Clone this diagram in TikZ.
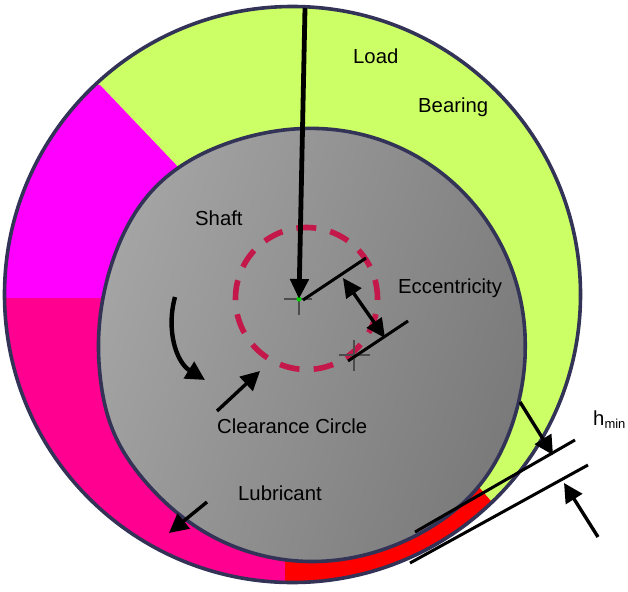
\documentclass[tikz,border=0pt]{standalone}
\usepackage{fontspec}
\setmainfont{Liberation Sans}
\usetikzlibrary{arrows.meta}
\definecolor{ringdark}{HTML}{333358}
\definecolor{lime}{HTML}{CCFF66}
\definecolor{magent}{HTML}{FF00FF}
\definecolor{pinkish}{HTML}{FF0090}
\definecolor{dashred}{HTML}{C4174A}
\definecolor{graylight}{HTML}{A4A4A4}
\definecolor{graydark}{HTML}{7A7A7A}
\tikzset{
  lbl/.style={font=\fontsize{20.3}{24}\selectfont,text=black,inner sep=0pt,anchor=base west},
  thinline/.style={draw=black,line width=3pt},
  pointer/.style={draw=black,line width=3.4pt,-{Triangle[length=19pt,width=19pt]}},
  both/.style={draw=black,line width=3.4pt,{Triangle[length=19pt,width=18pt]}-{Triangle[length=19pt,width=18pt]}},
  crossline/.style={draw=black!70,line width=1.6pt},
}
\begin{document}
\begin{tikzpicture}[x=1pt,y=-1pt]
\useasboundingbox (0,0) rectangle (628,591);
\begin{scope}
  \clip (292.5,294.5) circle (288);
  \fill[lime] (0,0) rectangle (628,591);
  \fill[magent] (100,85) -- (180,169) -- (180,298) -- (0,298) -- (0,85) -- cycle;
  \fill[pinkish] (0,298) rectangle (285,591);
  \fill[red] (285,591) -- (285,480) -- (478,486) -- (491,501) -- (560,591) -- cycle;
\end{scope}
\draw[ringdark,line width=3.6pt] (292.5,294.5) circle (288);
\path[left color=graylight,right color=graydark,shading angle=70,draw=ringdark,line width=3.6pt]
  plot[domain=0:357,samples=120,smooth]
  ({312+0.985*(216.5+7.5*exp(-((\x-135)/22)^2)+4*exp(-((\x-320)/20)^2)+3*exp(-((\x-204)/14)^2))*cos(\x)},
   {345-(216.5+7.5*exp(-((\x-135)/22)^2)+4*exp(-((\x-320)/20)^2)+3*exp(-((\x-204)/14)^2))*sin(\x)}) -- cycle;
\draw[dashred,line width=5.6pt,dash pattern=on 20pt off 14.3pt,dash phase=18.6pt] (306.5,298.5) circle (71);
\coordinate (c1) at (299,299);
\coordinate (c2) at (354,355);
\draw[crossline] (284,299) -- (312,299) (299,284) -- (299,315);
\draw[crossline] (339,355) -- (370,355) (354,340) -- (354,371);
\fill[green!85!black] (c1) circle (2.5);
\coordinate (loadtop) at (305,8);
\draw[draw=black,line width=4.8pt,-{Triangle[length=20pt,width=18pt]}] (loadtop) -- (c1);
\coordinate (e0) at (303,300);
\coordinate (e1) at (366,258);
\coordinate (e2) at (408,321);
\coordinate (e3) at (348,361);
\draw[thinline] (e0) -- (e1);
\draw[thinline] (e3) -- (e2);
\coordinate (d1) at (343,278);
\coordinate (d2) at (385,338);
\draw[both] (d1) -- (d2);
\coordinate (r1) at (175,297);
\coordinate (r2) at (205,380);
\draw[draw=black,line width=4.4pt,-{Triangle[length=19pt,width=19pt]}] (r1) .. controls (166,330) and (176,362) .. (r2);
\coordinate (cc1) at (217,411);
\coordinate (cc2) at (260,371);
\draw[pointer] (cc1) -- (cc2);
\coordinate (l1) at (207,502);
\coordinate (l2) at (169,533);
\draw[pointer] (l1) -- (l2);
\coordinate (h1) at (520,402);
\coordinate (h2) at (553,455);
\draw[pointer] (h1) -- (h2);
\coordinate (h3) at (598,537);
\coordinate (h4) at (564,483);
\draw[pointer] (h3) -- (h4);
\coordinate (t1) at (415,532);
\coordinate (t2) at (575,440);
\draw[thinline] (t1) -- (t2);
\coordinate (t3) at (410,563);
\coordinate (t4) at (588,465);
\draw[thinline] (t3) -- (t4);
\node[lbl] (load) at (353,64) {Load};
\node[lbl] (bearing) at (418,113) {Bearing};
\node[lbl] (shaft) at (195,225) {Shaft};
\node[lbl] (ecc) at (398,293) {Eccentricity};
\node[lbl] (clear) at (217,433) {Clearance Circle};
\node[lbl] (lub) at (238,500) {Lubricant};
\node[lbl] (hmin) at (593,425) {h\raisebox{-0.15em}{\fontsize{13}{15}\selectfont min}};
\end{tikzpicture}
\end{document}
